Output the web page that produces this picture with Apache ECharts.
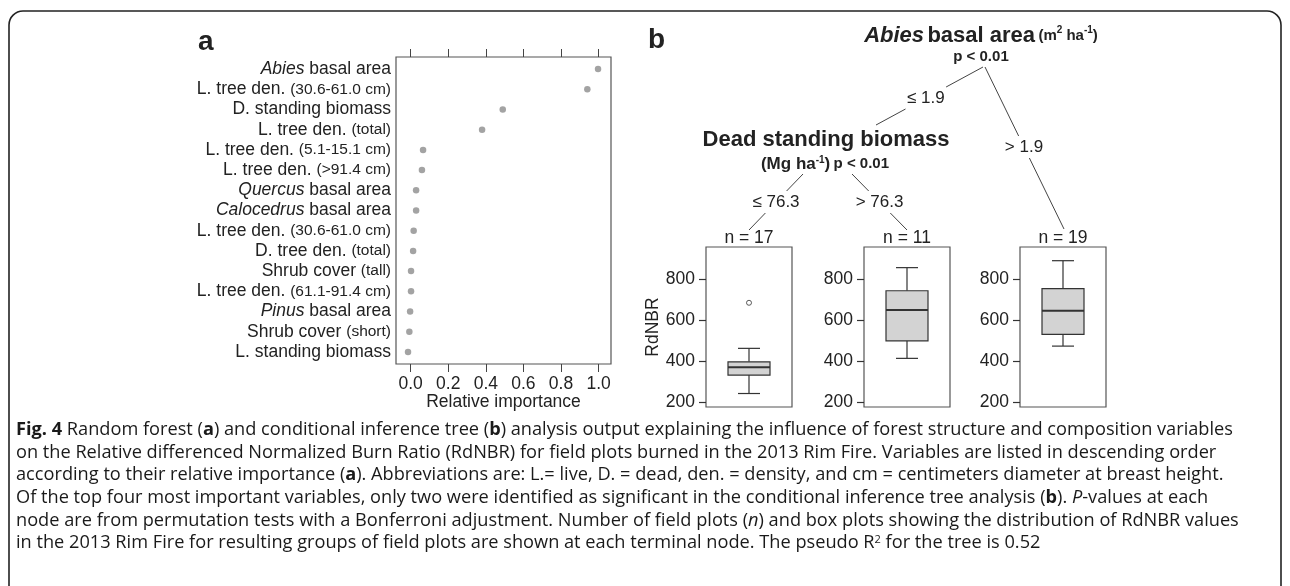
<!DOCTYPE html>
<html>
<head>
<meta charset="utf-8">
<script src="https://cdn.jsdelivr.net/npm/echarts@6/dist/echarts.min.js"></script>
<style>
html, body {margin:0; padding:0; background:#fff;}
#chart {width:1290px; height:586px;}
</style>
</head>
<body>
<div id="chart"></div>
<script>
//---------------------------Data---------------------------
//panel a: random forest importance, listed top to bottom
let varNames = [
    '{i|Abies} basal area',
    'L. tree den. {s|(30.6-61.0 cm)}',
    'D. standing biomass',
    'L. tree den. {s|(total)}',
    'L. tree den. {s|(5.1-15.1 cm)}',
    'L. tree den. {s|(>91.4 cm)}',
    '{i|Quercus} basal area',
    '{i|Calocedrus} basal area',
    'L. tree den. {s|(30.6-61.0 cm)}',
    'D. tree den. {s|(total)}',
    'Shrub cover {s|(tall)}',
    'L. tree den. {s|(61.1-91.4 cm)}',
    '{i|Pinus} basal area',
    'Shrub cover {s|(short)}',
    'L. standing biomass'
];
let importance = [0.997, 0.94, 0.49, 0.38, 0.066, 0.06, 0.029, 0.029, 0.016, 0.013, 0.002, 0.002, -0.003, -0.007, -0.014];
let importanceTicks = [0, 0.2, 0.4, 0.6, 0.8, 1.0];
let importanceLabels = ['0.0', '0.2', '0.4', '0.6', '0.8', '1.0'];

//panel b: conditional inference tree
let splitAbies = 1.9;
let splitDead = 76.3;
let nodePlots = [17, 11, 19];
//min, Q1, median, Q3, max
let boxStats = [
    [241, 331, 369, 396, 462],
    [413, 499, 650, 744, 857],
    [473, 530, 646, 754, 891]
];
let boxOutliers = [[685], [], []];
let rdnbrTicks = [200, 400, 600, 800];

//---------------------------UI---------------------------
let chart = echarts.init(document.getElementById('chart'));

let font = 'Liberation Sans, Arial, sans-serif';
let capFont = '"Open Sans", sans-serif';
let ink = '#222';
let lineStyle = {stroke: '#444', lineWidth: 1};

//box panels position (left px)
let boxLeft = [706, 864, 1020];

function renderBox(params, api) {
    let x = api.coord([0, api.value(3)])[0];
    let yMin = api.coord([0, api.value(1)])[1];
    let yQ1 = api.coord([0, api.value(2)])[1];
    let yMed = api.coord([0, api.value(3)])[1];
    let yQ3 = api.coord([0, api.value(4)])[1];
    let yMax = api.coord([0, api.value(5)])[1];
    let half = 21, cap = 11;
    let st = {stroke: '#333', lineWidth: 1.2};
    return {
        type: 'group',
        children: [
            {type: 'line', shape: {x1: x, y1: yMax, x2: x, y2: yQ3}, style: st},
            {type: 'line', shape: {x1: x, y1: yQ1, x2: x, y2: yMin}, style: st},
            {type: 'line', shape: {x1: x - cap, y1: yMax, x2: x + cap, y2: yMax}, style: st},
            {type: 'line', shape: {x1: x - cap, y1: yMin, x2: x + cap, y2: yMin}, style: st},
            {type: 'rect', shape: {x: x - half, y: yQ3, width: half * 2, height: yQ1 - yQ3},
                style: {fill: '#d3d3d3', stroke: '#333', lineWidth: 1.2}},
            {type: 'line', shape: {x1: x - half, y1: yMed, x2: x + half, y2: yMed},
                style: {stroke: '#333', lineWidth: 2}}
        ]
    };
}

let grids = [{left: 396, top: 57, width: 215, height: 307, show: true, borderColor: '#555', borderWidth: 1.2}];
let xAxes = [
    {gridIndex: 0, type: 'value', min: -0.078, max: 1.066, position: 'bottom',
        axisLine: {show: false}, splitLine: {show: false},
        axisTick: {customValues: importanceTicks, length: 8, lineStyle: {color: '#444'}},
        axisLabel: {customValues: importanceTicks, margin: 11, color: ink, fontFamily: font, fontSize: 17.5,
            formatter: function (v) { return importanceLabels[importanceTicks.indexOf(v)]; }},
        name: 'Relative importance', nameLocation: 'middle', nameGap: 29, nameMoveOverlap: false,
        nameTextStyle: {color: ink, fontFamily: font, fontSize: 17.5}},
    {gridIndex: 0, type: 'value', min: -0.078, max: 1.066, position: 'top',
        axisLine: {show: false}, splitLine: {show: false}, axisLabel: {show: false},
        axisTick: {customValues: importanceTicks, length: 8, lineStyle: {color: '#444'}}}
];
let yAxes = [
    {gridIndex: 0, type: 'value', min: 0.4, max: 15.6, inverse: true,
        axisLine: {show: false}, axisTick: {show: false}, splitLine: {show: false},
        axisLabel: {customValues: varNames.map((n, i) => i + 1), margin: 5, color: ink,
            fontFamily: font, fontSize: 17.5,
            formatter: function (v) { return varNames[v - 1]; },
            rich: {
                i: {fontStyle: 'italic', fontSize: 17.5, fontFamily: font, color: ink},
                s: {fontSize: 15.5, fontFamily: font, color: ink}
            }}}
];
let series = [
    {type: 'scatter', xAxisIndex: 0, yAxisIndex: 0, symbolSize: 6.5,
        itemStyle: {color: '#8c8c8c'}, silent: true,
        data: importance.map((v, i) => [v, i + 1])}
];

for (let k = 0; k < boxStats.length; k++) {
    grids.push({left: boxLeft[k], top: 247, width: 86, height: 160, show: true, borderColor: '#555', borderWidth: 1.2});
    xAxes.push({gridIndex: k + 1, type: 'category', data: ['n'], show: false});
    yAxes.push({gridIndex: k + 1, type: 'value', min: 175, max: 958,
        axisLine: {show: false}, splitLine: {show: false},
        axisTick: {show: true, customValues: rdnbrTicks, length: 7, lineStyle: {color: '#333', width: 1.2}},
        axisLabel: {customValues: rdnbrTicks, margin: 11, color: ink, fontFamily: font, fontSize: 17.5},
        name: k === 0 ? 'RdNBR' : '', nameLocation: 'middle', nameRotate: 90, nameGap: 43,
        nameTextStyle: {color: ink, fontFamily: font, fontSize: 17.5}});
    //panel a owns two x axes, so box k uses x axis k + 2
    series.push({type: 'custom', xAxisIndex: k + 2, yAxisIndex: k + 1, renderItem: renderBox,
        encode: {x: 0, y: [1, 2, 3, 4, 5]}, silent: true,
        data: [[0].concat(boxStats[k])]});
    series.push({type: 'scatter', xAxisIndex: k + 2, yAxisIndex: k + 1, symbol: 'circle', symbolSize: 5,
        itemStyle: {color: '#fff', borderColor: '#333', borderWidth: 1}, silent: true,
        data: boxOutliers[k].map(v => [0, v])});
}

//---------------------------Tree---------------------------
function txt(x, y, text, size, extra) {
    return {type: 'text', x: x, y: y, silent: true,
        style: Object.assign({text: text, fill: ink, font: size + 'px ' + font,
            align: 'center', verticalAlign: 'middle'}, extra || {})};
}

//edge with its label sitting in a gap at height ly
function edge(x1, y1, x2, y2, label, ly) {
    let at = y => x1 + (x2 - x1) * (y - y1) / (y2 - y1);
    let gap = 11;
    return [
        {type: 'line', silent: true, shape: {x1: x1, y1: y1, x2: at(ly - gap), y2: ly - gap}, style: lineStyle},
        {type: 'line', silent: true, shape: {x1: at(ly + gap), y1: ly + gap, x2: x2, y2: y2}, style: lineStyle},
        txt(at(ly), ly, label, 17)
    ];
}

let boldRich = {
    bi: {fontStyle: 'italic', fontWeight: 'bold', fontSize: 22, fontFamily: font, fill: ink},
    b: {fontWeight: 'bold', fontSize: 22, fontFamily: font, fill: ink},
    m: {fontWeight: 'bold', fontSize: 17, fontFamily: font, fill: ink},
    sm: {fontWeight: 'bold', fontSize: 15, fontFamily: font, fill: ink},
    sup: {fontWeight: 'bold', fontSize: 10, fontFamily: font, fill: ink, verticalAlign: 'top'}
};

let tree = [];
tree.push(txt(198, 42, 'a', 28, {font: 'bold 28px ' + font, align: 'left'}));
tree.push(txt(648, 40, 'b', 28, {font: 'bold 28px ' + font, align: 'left'}));
tree.push({type: 'text', x: 981, y: 36, silent: true, style: {
    text: '{bi|Abies} {b|basal area} {sm|(m}{sup|2}{sm| ha}{sup|-1}{sm|)}',
    rich: boldRich, align: 'center', verticalAlign: 'middle', fill: ink}});
tree.push(txt(981, 57, 'p < 0.01', 15, {font: 'bold 15px ' + font}));
tree = tree.concat(edge(983, 67, 876, 125, '\u2264 ' + splitAbies, 98));
tree = tree.concat(edge(985, 67, 1064, 229, '> ' + splitAbies, 147));
tree.push({type: 'text', x: 826, y: 140, silent: true, style: {
    text: '{b|Dead standing biomass}', rich: boldRich, align: 'center', verticalAlign: 'middle', fill: ink}});
tree.push({type: 'text', x: 825, y: 164, silent: true, style: {
    text: '{m|(Mg ha}{sup|-1}{m|)} {sm|p < 0.01}', rich: boldRich, align: 'center', verticalAlign: 'middle', fill: ink}});
tree = tree.concat(edge(803, 174, 749, 230, '\u2264 ' + splitDead, 202));
tree = tree.concat(edge(852, 174, 907, 230, '> ' + splitDead, 202));
for (let k = 0; k < nodePlots.length; k++) {
    tree.push(txt(boxLeft[k] + 43, 238, 'n = ' + nodePlots[k], 17.5));
}

//---------------------------Caption---------------------------
let captionLines = [
    '{b|Fig. 4} Random forest ({b|a}) and conditional inference tree ({b|b}) analysis output explaining the influence of forest structure and composition variables',
    'on the Relative differenced Normalized Burn Ratio (RdNBR) for field plots burned in the 2013 Rim Fire. Variables are listed in descending order',
    'according to their relative importance ({b|a}). Abbreviations are: L.= live, D. = dead, den. = density, and cm = centimeters diameter at breast height.',
    'Of the top four most important variables, only two were identified as significant in the conditional inference tree analysis ({b|b}). {i|P}-values at each',
    'node are from permutation tests with a Bonferroni adjustment. Number of field plots ({i|n}) and box plots showing the distribution of RdNBR values',
    'in the 2013 Rim Fire for resulting groups of field plots are shown at each terminal node. The pseudo R{sup|2} for the tree is 0.52'
];
let capSize = 18.2;
let capRich = {
    b: {fontWeight: 'bold', fontSize: capSize, fontFamily: capFont, fill: '#1a1a1a'},
    i: {fontStyle: 'italic', fontSize: capSize, fontFamily: capFont, fill: '#1a1a1a'},
    sup: {fontSize: 11, fontFamily: capFont, fill: '#1a1a1a', verticalAlign: 'top'}
};
for (let i = 0; i < captionLines.length; i++) {
    tree.push({type: 'text', x: 16, y: 430 + i * 22.6, silent: true, style: {
        text: captionLines[i], rich: capRich, font: capSize + 'px ' + capFont, fill: '#1a1a1a',
        align: 'left', verticalAlign: 'middle'}});
}

//frame
tree.push({type: 'rect', silent: true, z: -1,
    shape: {x: 9, y: 11, width: 1272, height: 640, r: [14, 14, 0, 0]},
    style: {fill: 'none', stroke: '#222', lineWidth: 1.6}});

let option = {
    animation: false,
    backgroundColor: '#fff',
    grid: grids,
    xAxis: xAxes,
    yAxis: yAxes,
    series: series,
    graphic: tree
};
chart.setOption(option);
</script>
</body>
</html>
